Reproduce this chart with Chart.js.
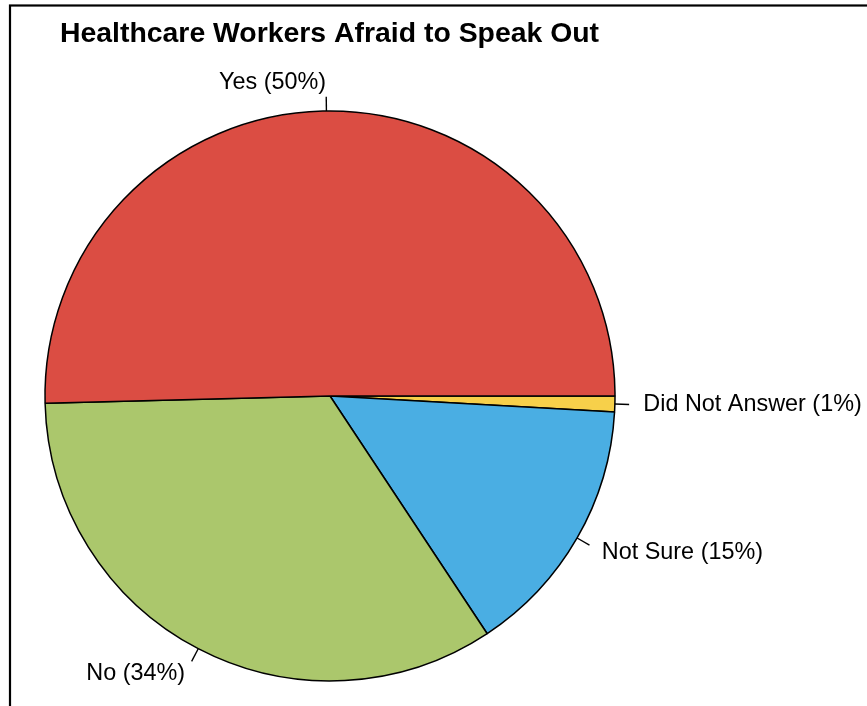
<!DOCTYPE html>
<html>
<head>
<meta charset="utf-8">
<script src="https://cdn.jsdelivr.net/npm/chart.js@4"></script>
<style>
  html, body { margin: 0; padding: 0; background: #fff; }
  #container { width: 867px; height: 706px; position: relative; }
</style>
</head>
<body>
<div id="container"><canvas id="ChartAfraid"></canvas></div>
<script>
// Data (order follows the clockwise drawing from 3 o'clock)
const categorias = ["Did Not Answer", "Not Sure", "No", "Yes"];
const porcentajes = [0.9, 14.8, 33.9, 50.4];
const etiquetas = ["Did Not Answer (1%)", "Not Sure (15%)", "No (34%)", "Yes (50%)"];
const colores = ["#f7d04a", "#4aaee3", "#abc76c", "#db4d43"];
const titulo = "Healthcare Workers Afraid to Speak Out";

const fuente = '"Liberation Sans", Arial, Helvetica, sans-serif';

// Title, frame and outside labels with small ticks
const etiquetasPlugin = {
  id: "etiquetasPie",
  beforeDraw(chart) {
    const ctx = chart.ctx;
    ctx.save();
    ctx.fillStyle = "#fff";
    ctx.fillRect(0, 0, chart.width, chart.height);
    ctx.restore();
  },
  afterDatasetsDraw(chart) {
    const ctx = chart.ctx;
    const arcs = chart.getDatasetMeta(0).data;
    ctx.save();

    // frame
    ctx.strokeStyle = "#000";
    ctx.lineWidth = 2.2;
    ctx.strokeRect(10, 5.5, chart.width + 20, chart.height + 20);

    // title
    ctx.fillStyle = "#000";
    ctx.font = "bold 28.4px " + fuente;
    ctx.textAlign = "left";
    ctx.textBaseline = "alphabetic";
    ctx.fillText(titulo, 60, 42);

    // labels
    ctx.font = "23.4px " + fuente;
    ctx.textBaseline = "middle";
    ctx.lineWidth = 1.4;
    arcs.forEach((arc, i) => {
      const ang = (arc.startAngle + arc.endAngle) / 2;
      const r = arc.outerRadius;
      const cx = Math.cos(ang);
      const cy = Math.sin(ang);
      ctx.beginPath();
      ctx.moveTo(arc.x + r * cx, arc.y + r * cy);
      ctx.lineTo(arc.x + 1.05 * r * cx, arc.y + 1.05 * r * cy);
      ctx.stroke();
      ctx.textAlign = cx < 0 ? "right" : "left";
      ctx.fillText(etiquetas[i], arc.x + 1.1 * r * cx, arc.y + 1.1 * r * cy);
    });
    ctx.restore();
  },
};

const ctx = document.getElementById("ChartAfraid");
pie = new Chart(ctx, {
  type: "pie",
  data: {
    labels: categorias,
    datasets: [
      {
        data: porcentajes,
        backgroundColor: colores,
        borderColor: "#000",
        borderWidth: 1.5,
      },
    ],
  },
  options: {
    responsive: true,
    maintainAspectRatio: false,
    animation: false,
    rotation: 90,
    radius: 285,
    layout: {
      padding: { left: 40, right: 247, top: 100, bottom: 14 },
    },
    plugins: {
      legend: { display: false },
      tooltip: { enabled: false },
    },
  },
  plugins: [etiquetasPlugin],
});
</script>
</body>
</html>
